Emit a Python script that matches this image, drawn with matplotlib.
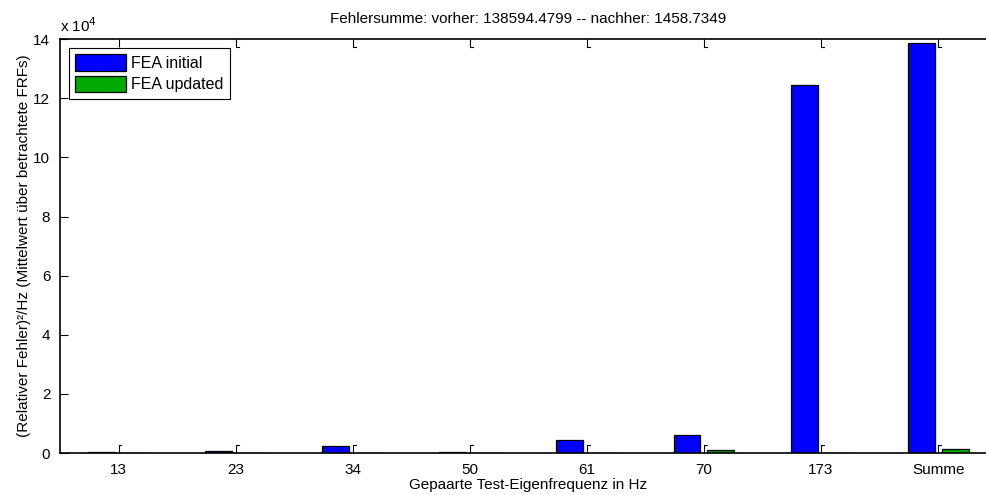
import numpy as np
import matplotlib.pyplot as plt
from matplotlib.transforms import blended_transform_factory

plt.rcParams['font.family'] = ['Liberation Sans', 'DejaVu Sans']
plt.rcParams['font.size'] = 11

# Daten
kategorien = ['13', '23', '34', '50', '61', '70', '173', 'Summe']
fea_initial = [300, 700, 2400, 250, 4300, 6200, 124444.4799, 138594.4799]
fea_updated = [50, 60, 70, 60, 60, 1100, 58.7349, 1458.7349]

x = np.arange(1, len(kategorien) + 1)

fig = plt.figure(figsize=(9.87, 4.95), dpi=100)
ax = fig.add_axes([0.0608, 0.0848, 0.949, 0.836])

ax.bar(x - 0.145, fea_initial, width=0.23, color='#0000ff', edgecolor='black', linewidth=0.9, label='FEA initial')
ax.bar(x + 0.145, fea_updated, width=0.23, color='#00aa00', edgecolor='black', linewidth=0.9, label='FEA updated')

ax.set_xlim(0.5, 8.5)
ax.set_ylim(0, 14e4)
ax.set_xticks(x)
ax.set_xticklabels(kategorien)
yt = np.arange(0, 14e4 + 1, 2e4)
ax.set_yticks(yt)
ax.set_yticklabels([f'{v / 1e4:g}' for v in yt])
tl = 5.5
ax.tick_params(axis='both', direction='in', length=tl, width=0.8, top=True, right=True, labelsize=11, pad=7)
for s in ax.spines.values():
    s.set_linewidth(1.2)

# kleine Haken an den Ticks (wie im MATLAB-Export)
tr = blended_transform_factory(ax.transData, ax.transAxes)
hy = tl / 72 * 100 / (0.836 * 495)
for xi in x:
    ax.plot([xi, xi + 0.025], [hy, hy], color='black', lw=0.8, transform=tr, clip_on=False)
    if xi > 1:
        ax.plot([xi, xi + 0.025], [1 - hy, 1 - hy], color='black', lw=0.8, transform=tr, clip_on=False)

ax.text(0.0, 1.01, r'x 10$^4$', transform=ax.transAxes, ha='left', va='bottom', fontsize=11)
ax.set_title('Fehlersumme: vorher: 138594.4799 -- nachher: 1458.7349', fontsize=11, pad=12)
ax.set_xlabel('Gepaarte Test-Eigenfrequenz in Hz', fontsize=11, labelpad=1)
ax.set_ylabel('(Relativer Fehler)²/Hz (Mittelwert über betrachtete FRFs)', fontsize=11, labelpad=2)

leg = ax.legend(loc='upper left', fancybox=False, edgecolor='black', framealpha=1,
                handlelength=3.2, handleheight=1.2, borderaxespad=0.55, labelspacing=0.3,
                handletextpad=0.3, borderpad=0.4, fontsize=11.5)
leg.get_frame().set_linewidth(0.8)

fig.savefig('out.png', dpi=100)
